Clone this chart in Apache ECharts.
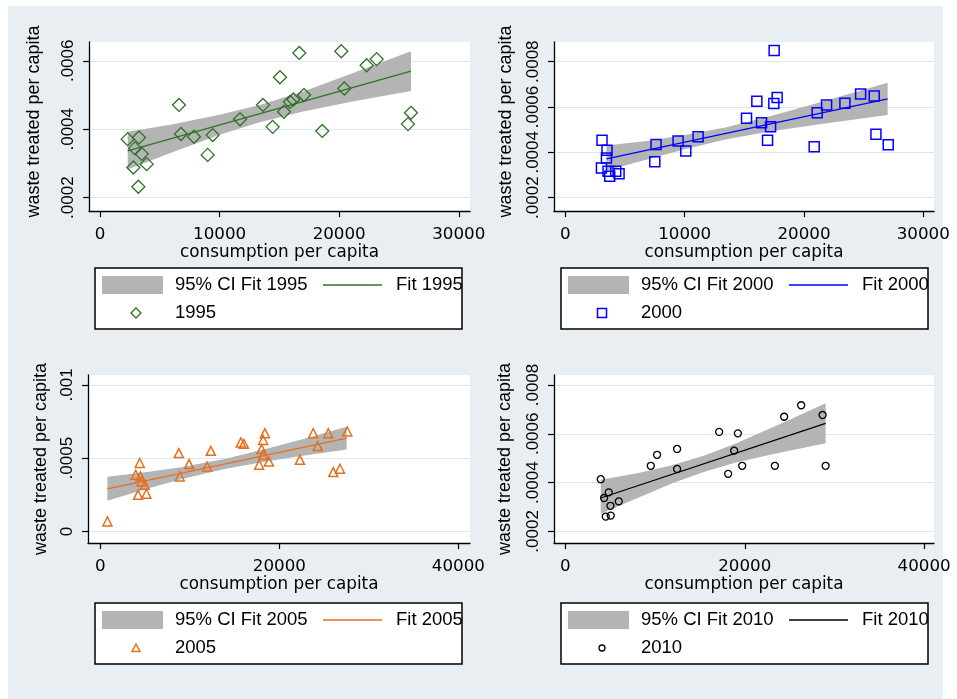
<!DOCTYPE html>
<html><head><meta charset="utf-8">
<script src="https://cdn.jsdelivr.net/npm/echarts@6/dist/echarts.min.js"></script>
<style>html,body{margin:0;padding:0;background:#fff}#c{width:957px;height:699px}</style>
</head><body><div id="c"></div>
<script>
// ---------------- data ----------------
const years = ['1995', '2000', '2005', '2010'];
const xTitle = 'consumption per capita';
const yTitle = 'waste treated per capita';
const ciPrefix = '95% CI Fit ';
const fitPrefix = 'Fit ';

const pts1995 = [[2316,0.000371],[3261,0.000376],[2926,0.000344],[3487,0.000328],[3903,0.000298],[2787,0.000288],[3205,0.000232],[6605,0.000471],[6773,0.000386],[7860,0.000378],[9420,0.000383],[9002,0.000325],[11706,0.000429],[13629,0.000471],[14437,0.000407],[15050,0.000552],[15385,0.000451],[15886,0.00048],[16165,0.000487],[17057,0.0005],[16665,0.000623],[18587,0.000395],[20176,0.000628],[20426,0.000519],[22299,0.000587],[23135,0.000605],[26003,0.000448],[25753,0.000415]];
const fit1995 = [[2316,0.000337],[26003,0.00057]];
const ci1995 = [[2316,0.000282,0.000393],[6000,0.000332,0.000414],[10000,0.000384,0.000442],[13500,0.000422,0.000472],[17000,0.000452,0.00051],[21000,0.00048,0.000562],[26003,0.000512,0.000628]];

const pts2000 = [[3070,0.000453],[3490,0.000409],[3440,0.000375],[3020,0.000331],[3574,0.000316],[3716,0.000294],[4220,0.000316],[4497,0.000305],[7492,0.000358],[7600,0.000435],[9446,0.00045],[10092,0.000406],[11124,0.000469],[15184,0.00055],[16049,0.000625],[16443,0.000531],[17198,0.000513],[16946,0.000453],[17500,0.000849],[17475,0.000616],[17752,0.000642],[20856,0.000425],[21107,0.000575],[21896,0.000609],[23431,0.000617],[24748,0.000657],[25889,0.000649],[26032,0.00048],[27064,0.000433]];
const fit2000 = [[3440,0.000371],[27013,0.000636]];
const ci2000 = [[3440,0.00032,0.00043],[7000,0.000371,0.000451],[10000,0.000414,0.000476],[13500,0.000458,0.000511],[17000,0.000491,0.000557],[21000,0.000522,0.000615],[27013,0.000565,0.000707]];

const pts2005 = [[783,0.0000682],[4397,0.000467],[3950,0.000387],[4475,0.000375],[4587,0.000341],[4956,0.000318],[4206,0.00025],[5145,0.000257],[8758,0.000535],[9910,0.00046],[8870,0.000375],[12337,0.00055],[11923,0.000443],[15693,0.000607],[16029,0.000598],[18378,0.000671],[18188,0.000625],[18009,0.000562],[18188,0.000523],[17740,0.000455],[18825,0.000477],[22293,0.000489],[23780,0.000671],[24273,0.000584],[25459,0.000671],[26018,0.000405],[26767,0.000428],[27583,0.000682]];
const fit2005 = [[783,0.000291],[27517,0.000637]];
const ci2005 = [[783,0.000209,0.000373],[5000,0.000288,0.000404],[9000,0.000356,0.000438],[14000,0.000428,0.000496],[19000,0.000483,0.000571],[23000,0.00052,0.000636],[27517,0.000559,0.000715]];

const pts2010 = [[3940,0.000414],[4832,0.00036],[4310,0.000337],[5022,0.000305],[5950,0.000323],[4497,0.000261],[5055,0.000265],[9520,0.000469],[10223,0.000514],[12455,0.000538],[12455,0.000456],[17142,0.000608],[18147,0.000436],[18817,0.000531],[19230,0.000602],[19710,0.000469],[23355,0.000469],[24393,0.00067],[26290,0.000717],[28679,0.000677],[29014,0.000469]];
const fit2010 = [[3940,0.000337],[29014,0.000643]];
const ci2010 = [[3940,0.000272,0.000412],[8000,0.000336,0.000438],[12000,0.000398,0.000472],[15500,0.000445,0.000511],[19000,0.000482,0.00056],[24000,0.000523,0.000641],[29014,0.000561,0.000725]];

const xTicksA = [0, 10000, 20000, 30000];
const xLabelsA = ['0', '10000', '20000', '30000'];
const xTicksB = [0, 20000, 40000];
const xLabelsB = ['0', '20000', '40000'];
const yTicks1995 = [0.0002, 0.0004, 0.0006];
const yLabels1995 = ['.0002', '.0004', '.0006'];
const yTicks2000 = [0.0002, 0.0004, 0.0006, 0.0008];
const yLabels2000 = ['.0002', '.0004', '.0006', '.0008'];
const yTicks2005 = [0, 0.0005, 0.001];
const yLabels2005 = ['0', '.0005', '.001'];
const yTicks2010 = [0.0002, 0.0004, 0.0006, 0.0008];
const yLabels2010 = ['.0002', '.0004', '.0006', '.0008'];

// ---------------- layout / style ----------------
const FX = 'DejaVu Sans, sans-serif';
const FY = 'Liberation Sans, Arial, sans-serif';
const BG = '#e8eef1';
const BAND = '#b4b4b4';

const panels = [
  {year: years[0], pts: pts1995, fit: fit1995, ci: ci1995, xt: xTicksA, xl: xLabelsA, yt: yTicks1995, yl: yLabels1995,
   xr: [-920, 30940], yr: [0.000161, 0.000655], color: '#2f7226', symbol: 'diamond', size: 13, bw: 1.3,
   grid: {left: 89, top: 42, width: 381, height: 169}, yGap: 46, xGap: 25, yPad: 10, lg: [95, 268], mk: 'diamond'},
  {year: years[1], pts: pts2000, fit: fit2000, ci: ci2000, xt: xTicksA, xl: xLabelsA, yt: yTicks2000, yl: yLabels2000,
   xr: [-956, 30900], yr: [0.000141, 0.000887], color: '#0000ff', symbol: 'rect', size: 10, bw: 1.5,
   grid: {left: 554, top: 42, width: 380, height: 169}, yGap: 39, xGap: 26, yPad: 10, lg: [561, 268], mk: 'square'},
  {year: years[2], pts: pts2005, fit: fit2005, ci: ci2005, xt: xTicksB, xl: xLabelsB, yt: yTicks2005, yl: yLabels2005,
   xr: [-1387, 41300], yr: [-0.0000791, 0.001068], color: '#e4701e', symbol: 'triangle', size: 9, bw: 1.5,
   grid: {left: 88, top: 375, width: 382, height: 168}, yGap: 38, xGap: 30, yPad: 0, lg: [95, 603], mk: 'triangle'},
  {year: years[3], pts: pts2010, fit: fit2010, ci: ci2010, xt: xTicksB, xl: xLabelsB, yt: yTicks2010, yl: yLabels2010,
   xr: [-1272, 41100], yr: [0.0001526, 0.000841], color: '#000000', symbol: 'circle', size: 7, bw: 1.3,
   grid: {left: 554, top: 375, width: 380, height: 168}, yGap: 40, xGap: 28, yPad: 0, lg: [561, 603], mk: 'circle'}
];

function labelFor(ticks, labels) {
  return function (v) {
    for (let i = 0; i < ticks.length; i++) if (Math.abs(ticks[i] - v) < 1e-12) return labels[i];
    return '';
  };
}

const grids = [], xAxes = [], yAxes = [], series = [], graphics = [];

graphics.push({type: 'rect', z: -10, silent: true, shape: {x: 8, y: 6, width: 935, height: 693}, style: {fill: BG}});

panels.forEach((p, i) => {
  grids.push(Object.assign({show: true, backgroundColor: '#ffffff', borderWidth: 0, containLabel: false, outerBoundsMode: 'none'}, p.grid));
  xAxes.push({
    gridIndex: i, type: 'value', min: p.xr[0], max: p.xr[1],
    axisLine: {show: true, onZero: false, lineStyle: {color: '#000', width: 1.3}},
    axisTick: {show: true, customValues: p.xt, length: 6, lineStyle: {color: '#000', width: 1.2}},
    axisLabel: {show: true, customValues: p.xt, formatter: labelFor(p.xt, p.xl), fontFamily: FX, fontSize: 16.7, color: '#000', margin: 15},
    splitLine: {show: false},
    name: xTitle, nameLocation: 'middle', nameGap: p.xGap,
    nameTextStyle: {fontFamily: FX, fontSize: 16.8, color: '#000'}
  });
  yAxes.push({
    gridIndex: i, type: 'value', min: p.yr[0], max: p.yr[1],
    axisLine: {show: true, onZero: false, lineStyle: {color: '#000', width: 1.3}},
    axisTick: {show: true, customValues: p.yt, length: 6, lineStyle: {color: '#000', width: 1.2}},
    axisLabel: {show: true, customValues: p.yt, formatter: labelFor(p.yt, p.yl), rotate: 90, fontFamily: FY, fontSize: 17, color: '#000', margin: 12},
    splitLine: {show: true, lineStyle: {color: '#dde8ed', width: 1}},
    name: yTitle, nameLocation: 'middle', nameGap: p.yGap, nameRotate: 90,
    nameTextStyle: {fontFamily: FY, fontSize: 18, color: '#000', padding: [0, 0, 0, p.yPad]}
  });
  const band = p.ci;
  series.push({
    type: 'custom', name: ciPrefix + p.year, xAxisIndex: i, yAxisIndex: i, data: band, silent: true, clip: true,
    encode: {x: 0, y: [1, 2]},
    renderItem: function (params, api) {
      if (params.dataIndex !== 0) return null;
      const up = band.map(d => api.coord([d[0], d[2]]));
      const lo = band.map(d => api.coord([d[0], d[1]])).reverse();
      return {type: 'polygon', shape: {points: up.concat(lo)}, style: {fill: BAND}};
    }
  });
  series.push({
    type: 'line', name: fitPrefix + p.year, xAxisIndex: i, yAxisIndex: i, data: p.fit,
    symbol: 'none', silent: true, lineStyle: {color: p.color, width: 1.3}, z: 3
  });
  series.push({
    type: 'scatter', name: p.year, xAxisIndex: i, yAxisIndex: i, data: p.pts,
    symbol: p.symbol, symbolSize: p.size, silent: true, z: 4,
    itemStyle: {color: 'rgba(0,0,0,0)', borderColor: p.color, borderWidth: p.bw, opacity: 1}
  });

  // legend box (drawn with graphic elements)
  const bx = p.lg[0], by = p.lg[1];
  const r1 = by + 17, r2 = by + 45;
  const LF = 'Liberation Sans, Arial, sans-serif';
  graphics.push({type: 'rect', z: 50, silent: true, shape: {x: bx, y: by, width: 367, height: 61}, style: {fill: '#fff', stroke: null}});
  graphics.push({type: 'rect', z: 51, silent: true, shape: {x: bx + 7, y: r1 - 9, width: 61, height: 18}, style: {fill: BAND}});
  graphics.push({type: 'text', z: 51, silent: true, x: bx + 80, y: r1, style: {text: ciPrefix + p.year, font: '18.5px ' + LF, fill: '#000', verticalAlign: 'middle', align: 'left'}});
  graphics.push({type: 'line', z: 51, silent: true, shape: {x1: bx + 228, y1: r1, x2: bx + 287, y2: r1}, style: {stroke: p.color, lineWidth: 1.5}});
  graphics.push({type: 'text', z: 51, silent: true, x: bx + 301, y: r1, style: {text: fitPrefix + p.year, font: '18.5px ' + LF, fill: '#000', verticalAlign: 'middle', align: 'left'}});
  graphics.push({type: 'text', z: 51, silent: true, x: bx + 80, y: r2, style: {text: p.year, font: '18.5px ' + LF, fill: '#000', verticalAlign: 'middle', align: 'left'}});
  const cx = bx + 41, cy = r2;
  let mk;
  if (p.mk === 'diamond') mk = {type: 'polygon', shape: {points: [[cx, cy - 5], [cx + 5, cy], [cx, cy + 5], [cx - 5, cy]]}, style: {fill: 'none', stroke: p.color, lineWidth: 1.3}};
  else if (p.mk === 'square') mk = {type: 'rect', shape: {x: cx - 4.5, y: cy - 4.5, width: 9, height: 9}, style: {fill: 'none', stroke: p.color, lineWidth: 1.5}};
  else if (p.mk === 'triangle') mk = {type: 'polygon', shape: {points: [[cx, cy - 4], [cx + 4, cy + 3.5], [cx - 4, cy + 3.5]]}, style: {fill: 'none', stroke: p.color, lineWidth: 1.5}};
  else mk = {type: 'circle', shape: {cx: cx, cy: cy, r: 3}, style: {fill: 'none', stroke: p.color, lineWidth: 1.3}};
  mk.z = 51; mk.silent = true;
  graphics.push(mk);
  // clip overflow on the right and draw the frame
  graphics.push({type: 'rect', z: 52, silent: true, shape: {x: bx + 367, y: by - 1, width: 12, height: 63}, style: {fill: BG}});
  graphics.push({type: 'rect', z: 53, silent: true, shape: {x: bx, y: by, width: 367, height: 61}, style: {fill: 'none', stroke: '#000', lineWidth: 1.5}});
});

const chart = echarts.init(document.getElementById('c'), null, {renderer: 'canvas'});
chart.setOption({
  animation: false,
  backgroundColor: '#ffffff',
  grid: grids, xAxis: xAxes, yAxis: yAxes, series: series,
  graphic: {elements: graphics},
  tooltip: {show: false}
});
</script>
</body></html>
